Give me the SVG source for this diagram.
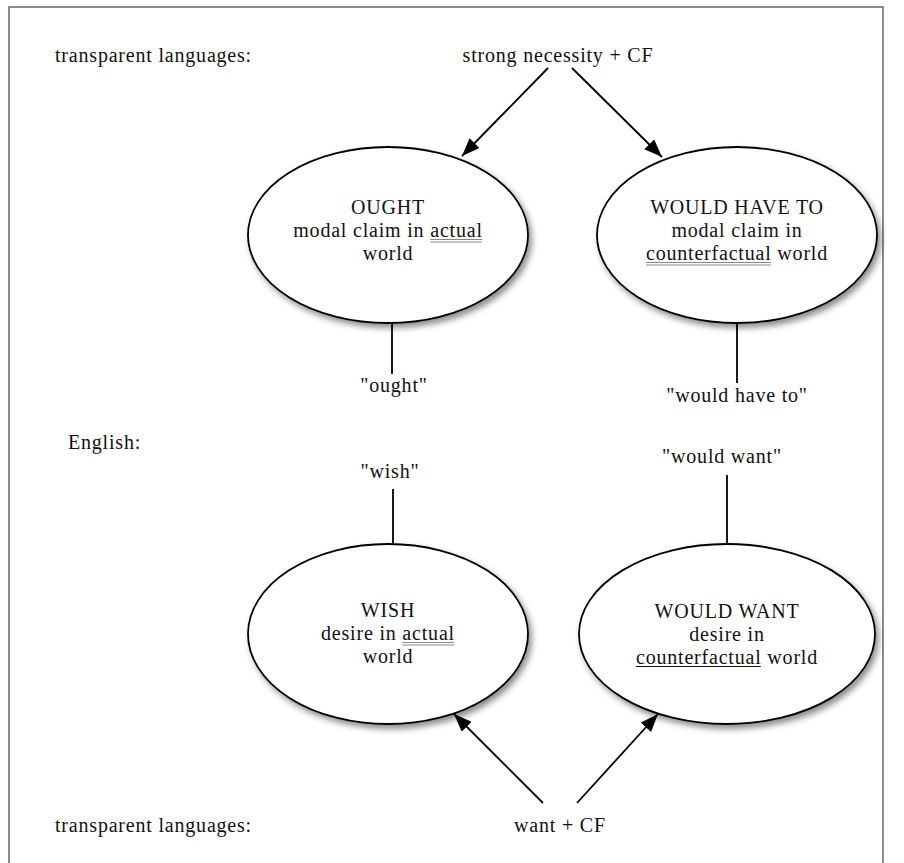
<svg xmlns="http://www.w3.org/2000/svg" width="904" height="863" viewBox="0 0 904 863">
<style>
text{font-family:"Liberation Serif","Times New Roman",serif;font-size:20px;letter-spacing:0.8px;fill:#111}
.c{text-anchor:middle}
.el{fill:#fff;stroke:#000;stroke-width:1.8}
.ln{stroke:#000;stroke-width:1.8;fill:none}
.u2{stroke:#888;stroke-width:1}
.u1{stroke:#111;stroke-width:1.2}
</style>
<defs>
<filter id="sh" x="-10%" y="-10%" width="125%" height="130%">
<feDropShadow dx="3" dy="4" stdDeviation="3" flood-color="#000" flood-opacity="0.45"/>
</filter>
<marker id="ah" viewBox="0 0 18 14" refX="18" refY="7" markerWidth="18" markerHeight="14" markerUnits="userSpaceOnUse" orient="auto">
<path d="M0,0 L18,7 L0,14 Z" fill="#000"/>
</marker>
</defs>
<rect x="9" y="7" width="874" height="880" fill="none" stroke="#666" stroke-width="1.5"/>
<g id="labels">
<text x="55" y="62">transparent languages:</text>
<text x="68" y="449">English:</text>
<text x="55" y="832">transparent languages:</text>
</g>
<g id="connectors">
<line class="ln" x1="548" y1="68" x2="462" y2="156" marker-end="url(#ah)"/>
<line class="ln" x1="572" y1="68" x2="662" y2="157" marker-end="url(#ah)"/>
<line class="ln" x1="392" y1="323" x2="392" y2="374"/>
<line class="ln" x1="737" y1="323" x2="737" y2="383"/>
<line class="ln" x1="393" y1="489" x2="393" y2="545"/>
<line class="ln" x1="727" y1="475" x2="727" y2="544"/>
<line class="ln" x1="543" y1="803" x2="454" y2="714" marker-end="url(#ah)"/>
<line class="ln" x1="577" y1="803" x2="658" y2="714" marker-end="url(#ah)"/>
</g>
<g id="strong-cf"><text class="c" x="558" y="62">strong necessity + CF</text></g>
<g id="ought-node">
<ellipse class="el" cx="388" cy="235" rx="140" ry="88" filter="url(#sh)"/>
<text class="c" x="388" y="214"><tspan x="388">OUGHT</tspan><tspan x="388" dy="23">modal claim in actual</tspan><tspan x="388" dy="23">world</tspan></text>
<line class="u2" x1="430.2" y1="239.5" x2="482" y2="239.5"/>
<line class="u2" x1="430.2" y1="242" x2="482" y2="242"/>
</g>
<g id="would-have-to-node">
<ellipse class="el" cx="737" cy="235" rx="140" ry="88" filter="url(#sh)"/>
<text class="c" x="737" y="214"><tspan x="737">WOULD HAVE TO</tspan><tspan x="737" dy="23">modal claim in</tspan><tspan x="737" dy="23">counterfactual world</tspan></text>
<line class="u2" x1="646" y1="262.5" x2="770.8" y2="262.5"/>
<line class="u2" x1="646" y1="265" x2="770.8" y2="265"/>
</g>
<g id="ought-word"><text class="c" x="394" y="392">"ought"</text></g>
<g id="would-have-to-word"><text class="c" x="737" y="402">"would have to"</text></g>
<g id="wish-word"><text class="c" x="390" y="478">"wish"</text></g>
<g id="would-want-word"><text class="c" x="722" y="463">"would want"</text></g>
<g id="wish-node">
<ellipse class="el" cx="388" cy="634" rx="140" ry="90" filter="url(#sh)"/>
<text class="c" x="388" y="617"><tspan x="388">WISH</tspan><tspan x="388" dy="23">desire in actual</tspan><tspan x="388" dy="23">world</tspan></text>
<line class="u2" x1="402.3" y1="642.5" x2="454.1" y2="642.5"/>
<line class="u2" x1="402.3" y1="645" x2="454.1" y2="645"/>
</g>
<g id="would-want-node">
<ellipse class="el" cx="727" cy="634" rx="148" ry="90" filter="url(#sh)"/>
<text class="c" x="727" y="618"><tspan x="727">WOULD WANT</tspan><tspan x="727" dy="23">desire in</tspan><tspan x="727" dy="23">counterfactual world</tspan></text>
<line class="u1" x1="636" y1="666.5" x2="760.8" y2="666.5"/>
</g>
<g id="want-cf"><text class="c" x="560" y="832">want + CF</text></g>
</svg>
